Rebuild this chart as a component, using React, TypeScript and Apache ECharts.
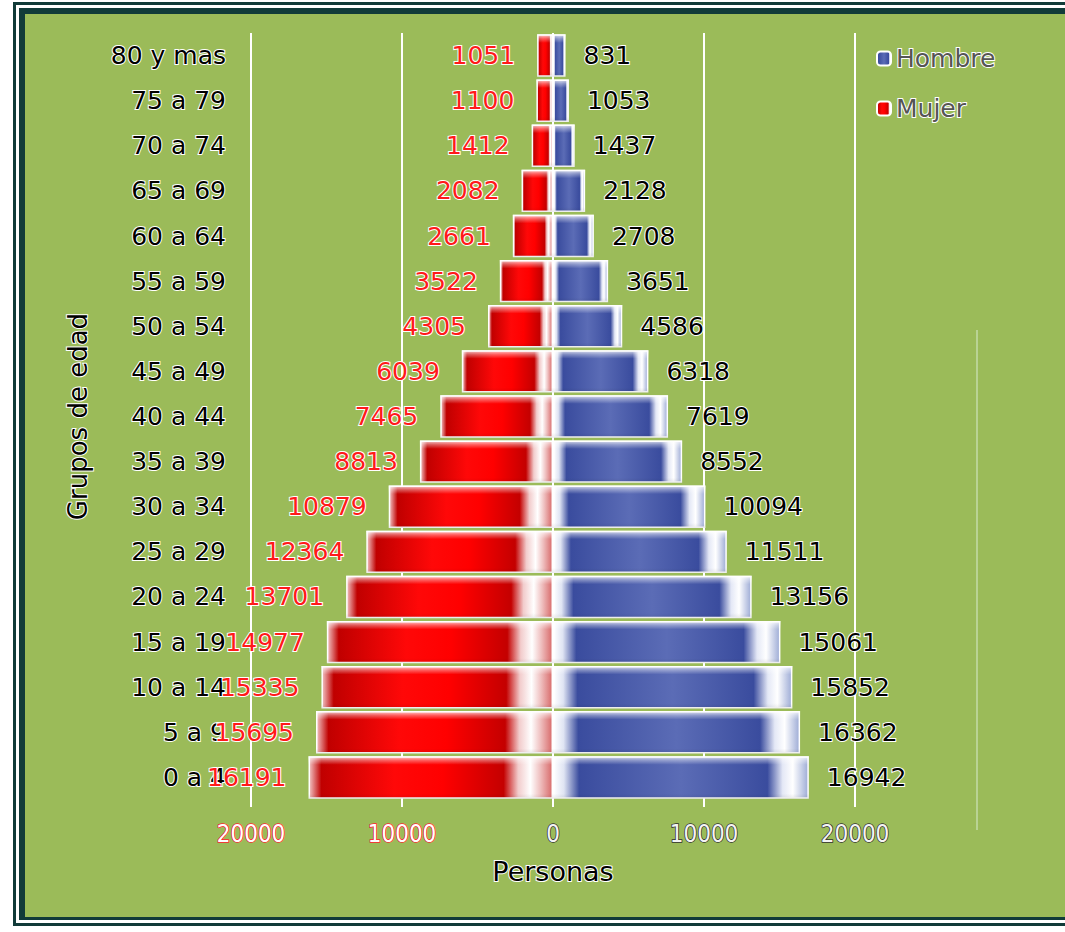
import React, { useEffect, useRef } from "react";
import * as echarts from "echarts";

const categories = ["0 a 4", "5 a 9", "10 a 14", "15 a 19", "20 a 24", "25 a 29", "30 a 34", "35 a 39", "40 a 44", "45 a 49", "50 a 54", "55 a 59", "60 a 64", "65 a 69", "70 a 74", "75 a 79", "80 y mas"];
const hombre = [16942, 16362, 15852, 15061, 13156, 11511, 10094, 8552, 7619, 6318, 4586, 3651, 2708, 2128, 1437, 1053, 831];
const mujer = [16191, 15695, 15335, 14977, 13701, 12364, 10879, 8813, 7465, 6039, 4305, 3522, 2661, 2082, 1412, 1100, 1051];
const xMin = -20000;
const xMax = 20000;
const xStep = 10000;

const FONT = "DejaVu Sans";
const NARROW = "'Liberation Sans Narrow', 'DejaVu Sans Condensed', 'Liberation Sans', Arial, sans-serif";

export default function App() {
  const ref = useRef<HTMLDivElement>(null);
  useEffect(() => {
    document.body.style.margin = "0";
    const chart = echarts.init(ref.current!, null, { renderer: "svg" });
    const redGrad = new echarts.graphic.LinearGradient(0, 0, 1, 0, [
      { offset: 0, color: "#f2c4c4" },
      { offset: 0.05, color: "#c00000" },
      { offset: 0.35, color: "#ff0808" },
      { offset: 0.55, color: "#ff0000" },
      { offset: 0.8, color: "#c40000" },
      { offset: 0.86, color: "#f2cccc" },
      { offset: 0.91, color: "#ffffff" },
      { offset: 0.95, color: "#efc0c0" },
      { offset: 1, color: "#d86a6a" },
    ]);
    const blueGrad = new echarts.graphic.LinearGradient(0, 0, 1, 0, [
      { offset: 0, color: "#ffffff" },
      { offset: 0.04, color: "#dfe4f3" },
      { offset: 0.1, color: "#3a4c9e" },
      { offset: 0.5, color: "#5b6cb6" },
      { offset: 0.84, color: "#3a4c9e" },
      { offset: 0.9, color: "#e4e8f6" },
      { offset: 0.94, color: "#ffffff" },
      { offset: 1, color: "#9eacd6" },
    ]);
    const shine = new echarts.graphic.LinearGradient(0, 0, 0, 1, [
      { offset: 0, color: "rgba(255,255,255,0.85)" },
      { offset: 0.1, color: "rgba(255,255,255,0.35)" },
      { offset: 0.2, color: "rgba(255,255,255,0)" },
      { offset: 0.88, color: "rgba(0,0,0,0)" },
      { offset: 1, color: "rgba(0,0,0,0.08)" },
    ]);
    const outline = { textBorderColor: "#ffffff", textBorderWidth: 2 };
    chart.setOption({
      animation: false,
      backgroundColor: "#ffffff",
      graphic: {
        elements: [
          { type: "rect", z: -10, silent: true, shape: { x: 13, y: 2, width: 1100, height: 924 }, style: { fill: "#113b39" } },
          { type: "rect", z: -10, silent: true, shape: { x: 16, y: 5, width: 1100, height: 918 }, style: { fill: "#ffffff" } },
          { type: "rect", z: -10, silent: true, shape: { x: 19, y: 8, width: 1100, height: 912 }, style: { fill: "#113b39" } },
          { type: "rect", z: -10, silent: true, shape: { x: 25, y: 14, width: 1100, height: 903 }, style: { fill: "#9bbb59" } },
          { type: "line", z: -9, silent: true, shape: { x1: 977, y1: 330, x2: 977, y2: 830 }, style: { stroke: "rgba(215,235,205,0.5)", lineWidth: 2 } },
        ],
      },
      legend: {
        data: ["Hombre", "Mujer"],
        orient: "vertical",
        left: 871,
        top: 40,
        itemWidth: 14,
        itemHeight: 14,
        itemGap: 23,
        textStyle: { fontFamily: FONT, fontSize: 25, color: "#555555", ...outline },
      },
      grid: { left: 251, right: 210, top: 33, bottom: 132, containLabel: false },
      xAxis: {
        type: "value",
        min: xMin,
        max: xMax,
        interval: xStep,
        name: "Personas",
        nameLocation: "middle",
        nameGap: 58,
        nameTextStyle: { fontFamily: FONT, fontSize: 27, color: "#000", ...outline },
        axisLine: { show: false },
        axisTick: { show: true, length: 7, lineStyle: { color: "#ffffff", width: 2 } },
        splitLine: { show: true, lineStyle: { color: "#ffffff", width: 2 } },
        axisLabel: {
          margin: 22,
          formatter: (v: number) => (v < 0 ? `{r|${Math.abs(v)}}` : `{k|${v}}`),
          rich: {
            r: { fontFamily: NARROW, fontSize: 24, color: "#ffffff", textBorderColor: "#ff2030", textBorderWidth: 1.5 },
            k: { fontFamily: NARROW, fontSize: 24, color: "#f4f4f4", textBorderColor: "#303030", textBorderWidth: 1.5 },
          },
        },
      },
      yAxis: {
        type: "category",
        data: categories,
        name: "Grupos de edad",
        nameLocation: "middle",
        nameGap: 160,
        nameTextStyle: { fontFamily: FONT, fontSize: 26, color: "#000", ...outline },
        axisLine: { show: false },
        axisTick: { show: false },
        axisLabel: { margin: 25, fontFamily: FONT, fontSize: 25, color: "#000", ...outline },
      },
      series: [
        {
          name: "Hombre",
          type: "bar",
          data: hombre,
          barGap: "-100%",
          barCategoryGap: "6%",
          itemStyle: { color: blueGrad, borderColor: "#ffffff", borderWidth: 1.5 },
          label: { show: true, position: "right", distance: 18, fontFamily: FONT, fontSize: 25, color: "#000", ...outline },
          z: 2,
        },
        {
          name: "Mujer",
          type: "bar",
          data: mujer.map((v) => -v),
          barGap: "-100%",
          barCategoryGap: "6%",
          itemStyle: { color: redGrad, borderColor: "#ffffff", borderWidth: 1.5 },
          label: {
            show: true,
            position: "left",
            distance: 22,
            formatter: (p: any) => String(Math.abs(p.value)),
            fontFamily: FONT,
            fontSize: 25,
            color: "#ff1a1a",
            ...outline,
          },
          z: 2,
        },
        {
          name: "shineH",
          type: "bar",
          data: hombre,
          barGap: "-100%",
          barCategoryGap: "6%",
          silent: true,
          itemStyle: { color: shine },
          z: 3,
        },
        {
          name: "shineM",
          type: "bar",
          data: mujer.map((v) => -v),
          barGap: "-100%",
          barCategoryGap: "6%",
          silent: true,
          itemStyle: { color: shine },
          z: 3,
        },
      ],
    });
    return () => chart.dispose();
  }, []);
  return <div ref={ref} style={{ width: 1065, height: 932 }} />;
}
